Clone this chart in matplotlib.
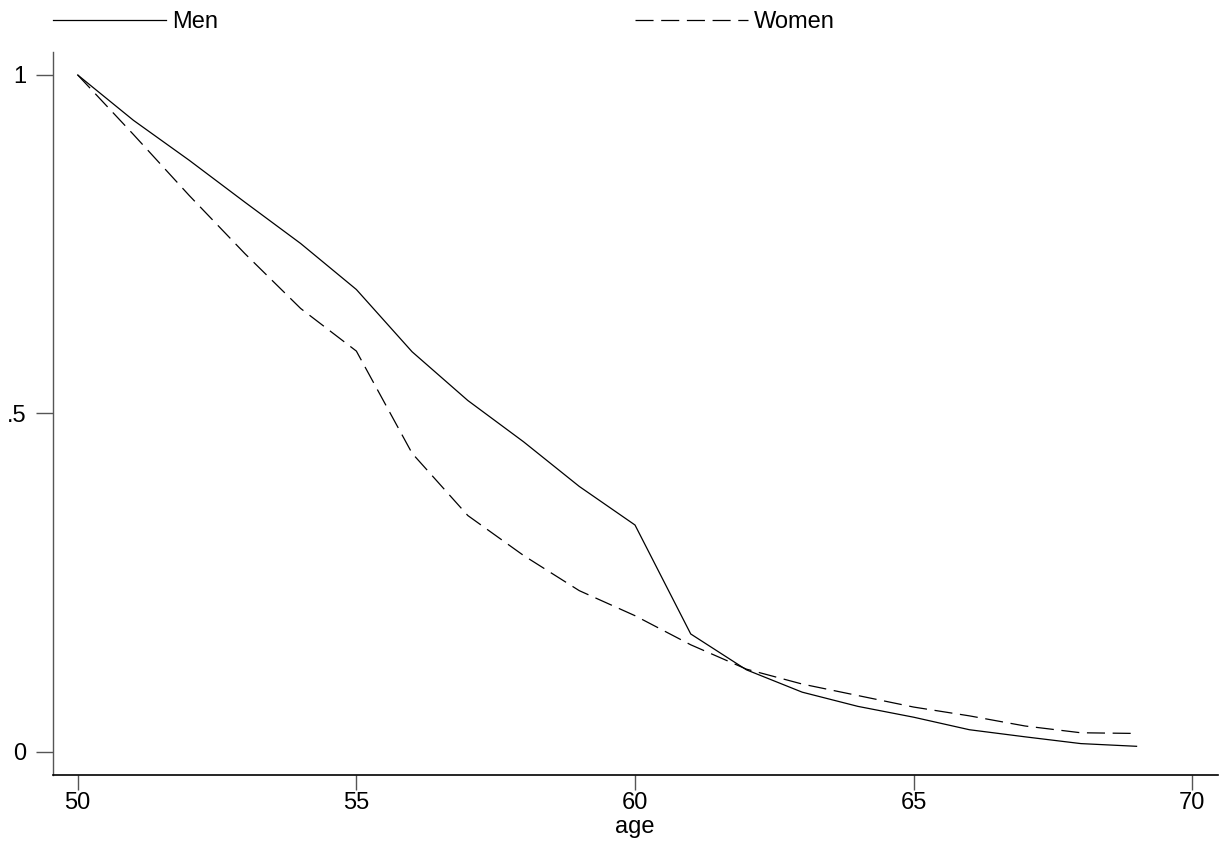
import matplotlib
matplotlib.use("Agg")
import matplotlib.pyplot as plt

plt.rcParams['font.family'] = ['Liberation Sans', 'DejaVu Sans']
plt.rcParams['lines.scale_dashes'] = False

age = [50, 51, 52, 53, 54, 55, 56, 57, 58, 59, 60, 61, 62, 63, 64, 65, 66, 67, 68, 69]
men = [1.0, 0.933, 0.874, 0.812, 0.751, 0.683, 0.591, 0.519, 0.458, 0.392, 0.335,
       0.174, 0.121, 0.088, 0.067, 0.051, 0.0325, 0.022, 0.012, 0.008]
women = [1.0, 0.912, 0.822, 0.736, 0.655, 0.592, 0.441, 0.349, 0.290, 0.238, 0.201,
         0.158, 0.122, 0.100, 0.083, 0.066, 0.053, 0.038, 0.028, 0.027]
xticks = [50, 55, 60, 65, 70]
yticks = [0, 0.5, 1]
yticklabels = ['0', '.5', '1']

W, H = 1229, 842
fig = plt.figure(figsize=(W / 100, H / 100), dpi=100)
ax = fig.add_axes([52.7 / W, 1 - 775 / H, (1217.7 - 52.7) / W, (775 - 51.7) / H])

l1, = ax.plot(age, men, color='black', lw=0.9, label='Men')
l2, = ax.plot(age, women, color='black', lw=0.9, linestyle=(0, (13, 5.5)), label='Women')

ax.set_xlim(49.551, 70.456)
ax.set_ylim(-0.0344, 1.0344)

for s in ['top', 'right']:
    ax.spines[s].set_visible(False)
ax.spines['left'].set_color('#555555')
ax.spines['left'].set_linewidth(1.0)
ax.spines['bottom'].set_color('black')
ax.spines['bottom'].set_linewidth(1.2)

ax.set_xticks(xticks)
ax.set_xticklabels([str(v) for v in xticks])
ax.set_yticks(yticks)
ax.set_yticklabels(yticklabels)
ax.tick_params(axis='x', length=11, width=1, color='#555555', pad=1, labelsize=17)
ax.tick_params(axis='y', length=12.2, width=1, color='#555555', pad=7, labelsize=17)

ax.set_xlabel('age', fontsize=17, labelpad=1.8)

leg1 = fig.legend(handles=[l1], loc='center left', bbox_to_anchor=(52.7 / W, 1 - 22 / H),
                  frameon=False, fontsize=17, handlelength=4.79, handletextpad=0.25,
                  borderpad=0, borderaxespad=0)
leg2 = fig.legend(handles=[l2], loc='center left', bbox_to_anchor=(635 / W, 1 - 22 / H),
                  frameon=False, fontsize=17, handlelength=4.79, handletextpad=0.25,
                  borderpad=0, borderaxespad=0)

fig.savefig('out.png', dpi=100)
